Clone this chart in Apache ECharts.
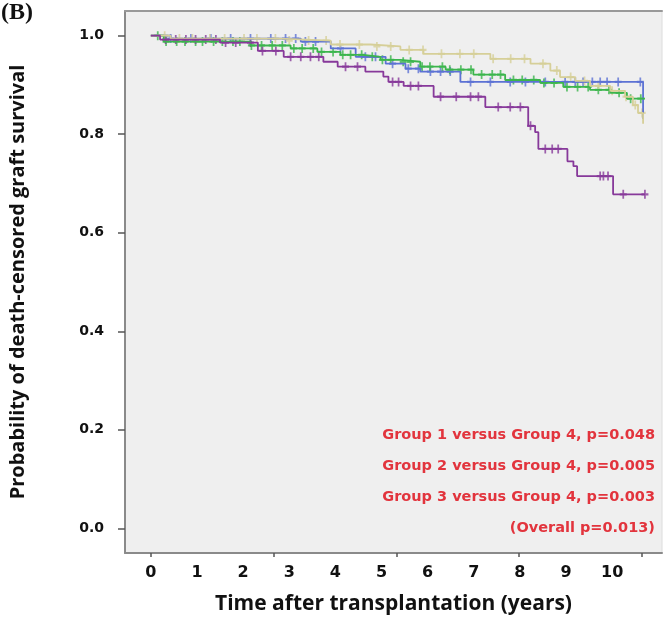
<!DOCTYPE html>
<html>
<head>
<meta charset="utf-8">
<script src="https://cdn.jsdelivr.net/npm/echarts@6/dist/echarts.min.js"></script>
<style>
  html, body { margin: 0; padding: 0; background: #fff; }
  #chart { width: 665px; height: 625px; }
</style>
</head>
<body>
<div id="chart"></div>
<script>
// Kaplan-Meier steps: [time (years), survival]
const group1Steps = [[0, 1.0], [0.43, 0.994], [3.25, 0.988], [3.9, 0.974], [4.44, 0.957], [5.09, 0.943],
  [5.52, 0.933], [5.84, 0.927], [6.71, 0.906], [10.67, 0.906], [10.67, 0.831]];
const group2Steps = [[0, 1.0], [0.43, 0.994], [2.81, 0.990], [3.9, 0.982], [4.76, 0.978], [5.41, 0.971],
  [5.91, 0.963], [7.36, 0.953], [8.23, 0.943], [8.66, 0.929], [8.87, 0.916], [9.2, 0.908], [9.52, 0.898],
  [9.96, 0.888], [10.28, 0.876], [10.45, 0.859], [10.56, 0.843], [10.67, 0.821]];
const group3Steps = [[0, 1.0], [0.28, 0.988], [2.16, 0.980], [3.03, 0.974], [3.61, 0.967], [4.11, 0.961],
  [4.61, 0.957], [4.98, 0.951], [5.41, 0.947], [5.84, 0.937], [6.39, 0.931], [6.99, 0.921], [7.68, 0.910],
  [8.44, 0.904], [8.94, 0.896], [9.52, 0.890], [9.96, 0.884], [10.32, 0.872], [10.71, 0.872]];
const group4Steps = [[0, 1.0], [0.2, 0.992], [1.5, 0.986], [2.32, 0.969], [2.88, 0.957], [3.74, 0.947],
  [4.05, 0.937], [4.65, 0.927], [5.04, 0.917], [5.15, 0.906], [5.48, 0.898], [6.13, 0.876], [7.25, 0.855],
  [8.18, 0.817], [8.33, 0.804], [8.4, 0.770], [9.03, 0.745], [9.16, 0.735], [9.24, 0.715], [10.02, 0.678],
  [10.71, 0.678]];

// censoring times (years)
const group1Censor = [0.43, 0.87, 1.3, 1.73, 2.16, 2.6, 2.92, 3.14, 3.35, 3.57, 4.11, 4.65, 4.87, 5.24, 5.58,
  5.8, 6.06, 6.28, 6.49, 6.93, 7.36, 7.79, 8.12, 8.55, 8.98, 9.2, 9.37, 9.57, 9.74, 9.89, 10.13, 10.61];
const group2Censor = [0.3, 0.62, 0.9, 1.28, 1.6, 2.02, 2.3, 2.7, 3.0, 3.42, 3.8, 4.1, 4.52, 4.9, 5.2, 5.6, 5.9,
  6.3, 6.7, 7.0, 7.42, 7.8, 8.1, 8.5, 8.8, 9.1, 9.4, 9.7, 10.0, 10.3, 10.5, 10.65];
const group3Censor = [0.15, 0.33, 0.56, 0.74, 0.97, 1.12, 1.36, 1.55, 1.78, 1.93, 2.18, 2.4, 2.63, 2.85, 3.1,
  3.28, 3.52, 3.7, 3.95, 4.16, 4.33, 4.57, 4.8, 5.02, 5.2, 5.47, 5.63, 5.88, 6.05, 6.32, 6.48, 6.72, 6.94,
  7.17, 7.4, 7.58, 7.86, 8.05, 8.3, 8.52, 8.74, 9.02, 9.25, 9.48, 9.7, 9.93, 10.15, 10.4, 10.62];
const group4Censor = [0.32, 0.54, 0.76, 0.97, 1.19, 1.41, 1.62, 1.84, 2.16, 2.42, 2.71, 3.03, 3.25, 3.46, 3.64,
  4.22, 4.48, 5.24, 5.37, 5.63, 5.8, 6.28, 6.62, 6.93, 7.1, 7.53, 7.79, 8.01, 8.23, 8.55, 8.7, 8.83, 9.74,
  9.81, 9.91, 10.24, 10.71];

const xLabelYears = [0, 1, 2, 3, 4, 5, 6, 7, 8, 9, 10];
const xTickYears = [0, 2.66, 5.32, 7.98, 10.64];
const yTickValues = [0, 0.2, 0.4, 0.6, 0.8, 1.0];
const pValueLines = ['Group 1 versus Group 4, p=0.048', 'Group 2 versus Group 4, p=0.005',
  'Group 3 versus Group 4, p=0.003', '(Overall p=0.013)'];

const groups = [
  { name: 'Group 1', steps: group1Steps, censor: group1Censor, color: '#5c72d4' },
  { name: 'Group 3', steps: group3Steps, censor: group3Censor, color: '#3bb54c' },
  { name: 'Group 2', steps: group2Steps, censor: group2Censor, color: '#d6cf98' },
  { name: 'Group 4', steps: group4Steps, censor: group4Censor, color: '#87399a' }
];

function survAt(steps, t) {
  let s = steps[0][1];
  for (const p of steps) {
    if (p[0] <= t) s = p[1];
  }
  return s;
}

const plusMark = 'path://M3,0h2v3h3v2h-3v3h-2v-3h-3v-2h3z';
const font = '"Open Sans", "DejaVu Sans", sans-serif';
const labelFont = '"DejaVu Sans", "Open Sans", sans-serif';

let series = [];
groups.forEach(g => {
  series.push({
    name: g.name,
    type: 'line',
    step: 'end',
    showSymbol: false,
    silent: true,
    data: g.steps,
    lineStyle: { color: g.color, width: 1.8 }
  });
  series.push({
    name: g.name + ' censored',
    type: 'scatter',
    symbol: plusMark,
    symbolSize: [7, 9],
    silent: true,
    data: g.censor.map(t => [t, survAt(g.steps, t)]),
    itemStyle: { color: g.color }
  });
});

const chart = echarts.init(document.getElementById('chart'), null, { renderer: 'canvas' });

const option = {
  backgroundColor: '#fff',
  animation: false,
  grid: {
    left: 124, right: 3, top: 11, bottom: 72,
    show: true,
    backgroundColor: '#efefef',
    borderColor: '#dcdcdc',
    borderWidth: 1
  },
  xAxis: [{
    type: 'value',
    min: -0.56,
    max: 11.08,
    name: 'Time after transplantation (years)',
    nameLocation: 'middle',
    nameGap: 41,
    nameTextStyle: { fontFamily: font, fontWeight: 'bold', fontSize: 21, color: '#111' },
    splitLine: { show: false },
    axisLine: { onZero: false, lineStyle: { color: '#8a8a8a', width: 2 } },
    axisTick: { customValues: xTickYears, length: 4, lineStyle: { color: '#555', width: 1.5 } },
    axisLabel: {
      customValues: xLabelYears,
      margin: 12,
      fontFamily: labelFont, fontWeight: 'bold', fontSize: 16, color: '#111'
    }
  }, {
    type: 'value',
    position: 'top',
    min: -0.56,
    max: 11.08,
    splitLine: { show: false },
    axisLine: { onZero: false, lineStyle: { color: '#999', width: 2 } },
    axisTick: { show: false },
    axisLabel: { show: false }
  }],
  yAxis: {
    type: 'value',
    min: -0.05,
    max: 1.05,
    name: 'Probability of death-censored graft survival',
    nameLocation: 'middle',
    nameGap: 97,
    nameTextStyle: { fontFamily: font, fontWeight: 'bold', fontSize: 20, color: '#111' },
    splitLine: { show: false },
    axisLine: { onZero: false, lineStyle: { color: '#8a8a8a', width: 2 } },
    axisTick: { customValues: yTickValues, length: 7, lineStyle: { color: '#555', width: 1.5 } },
    axisLabel: {
      customValues: yTickValues,
      margin: 21,
      formatter: v => v.toFixed(1),
      fontFamily: labelFont, fontWeight: 'bold', fontSize: 14, color: '#111'
    }
  },
  graphic: [
    {
      type: 'text', left: 1, top: 1,
      style: { text: '(B)', font: 'bold 24px "Liberation Serif", "DejaVu Serif", serif', fill: '#111' }
    }
  ].concat(pValueLines.map((t, i) => ({
    type: 'text',
    x: 655,
    y: 435 + i * 31,
    style: {
      text: t,
      align: 'right',
      verticalAlign: 'middle',
      font: 'bold 14.5px ' + labelFont,
      fill: '#e2343d'
    }
  }))),
  series: series
};

chart.setOption(option);
</script>
</body>
</html>
